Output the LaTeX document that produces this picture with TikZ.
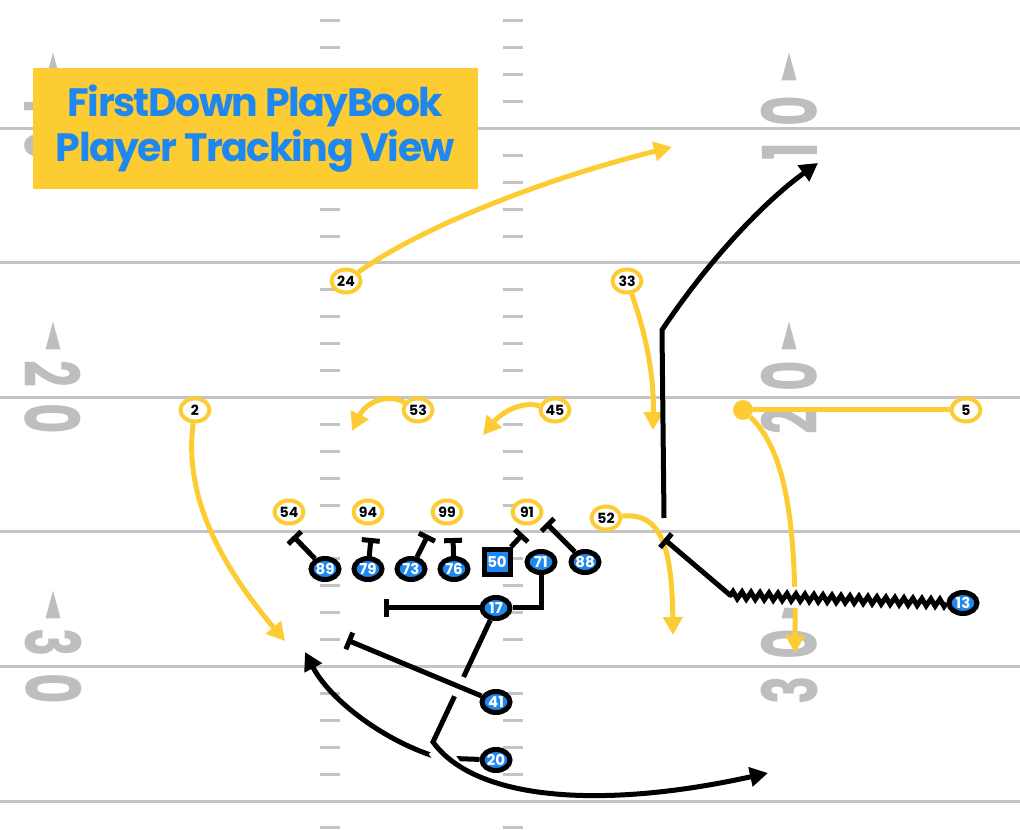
\documentclass[tikz,border=0pt]{standalone}
\usepackage{fontspec}
\usepackage{graphicx}
\usetikzlibrary{arrows.meta,shapes.geometric,decorations.pathmorphing,calc,backgrounds}
\newfontfamily\pop{Poppins}
\newfontfamily\poptight{Poppins}[LetterSpace=-4]
\definecolor{fyellow}{HTML}{FDCC33}
\definecolor{fblue}{HTML}{1E88F0}
\definecolor{fgray}{HTML}{C4C4C4}
\definecolor{ngray}{HTML}{BEBEBE}
\newcommand{\yardno}[2]{\scalebox{0.62}[1]{#1\kern15pt#2}}

\begin{document}
\begin{tikzpicture}[
    x=0.2mm, y=-0.2mm,
    yard/.style={draw=fgray, line width=0.6mm},
    hash/.style={draw=fgray, line width=0.6mm},
    yardnum/.style={text=ngray, inner sep=0pt, font=\pop\bfseries\fontsize{43}{43}\selectfont},
    titlebox/.style={fill=fyellow, text=fblue, align=center, minimum width=89mm, minimum height=24.2mm, inner sep=0pt, font=\poptight\bfseries\fontsize{22.5}{26}\selectfont},
    def/.style={ellipse, draw=fyellow, line width=0.8mm, fill=white, minimum width=5.8mm, minimum height=4.6mm, inner sep=0pt, font=\pop\bfseries\fontsize{8}{8}\selectfont},
    off/.style={ellipse, draw=black, line width=1mm, fill=fblue, text=white, minimum width=5.6mm, minimum height=4.2mm, inner sep=0pt, font=\pop\bfseries\fontsize{8.5}{8}\selectfont},
    ctr/.style={off, rectangle, minimum width=5.2mm, minimum height=5mm},
    motion/.style={circle, fill=fyellow, minimum size=4mm, inner sep=0pt},
    yroute/.style={draw=fyellow, line width=1mm},
    broute/.style={draw=black, line width=1mm},
    yarr/.style={yroute, -{Triangle[length=3.6mm, width=3.8mm]}},
    barr/.style={broute, -{Triangle[length=3.6mm, width=3.8mm]}},
    block/.style={broute, -{Bar[width=3.6mm]}},
    gapband/.style={draw=white, line width=4.2mm},
    zz/.style={decoration={zigzag, segment length=1.8mm, amplitude=0.7mm}}
]
    \useasboundingbox (0,0) rectangle (1020,830);

    \node[titlebox] (title) at (255.5,128.5) {FirstDown PlayBook\\Player Tracking View};

    \node[def] (d24) at (346,281) {24};
    \node[def] (d33) at (627,281) {33};
    \node[def] (d2) at (195,410) {2};
    \node[def] (d53) at (418,410) {53};
    \node[def] (d45) at (555,410) {45};
    \node[def] (d5) at (966,410) {5};
    \node[def] (d54) at (289,512) {54};
    \node[def] (d94) at (368,512) {94};
    \node[def] (d99) at (447,512) {99};
    \node[def] (d91) at (527,512) {91};
    \node[def] (d52) at (606,518) {52};
    \node[motion] (m5) at (743,410) {};

    \node[off] (o89) at (325,569) {89};
    \node[off] (o79) at (368,569) {79};
    \node[off] (o73) at (411,569) {73};
    \node[off] (o76) at (454,569) {76};
    \node[ctr] (o50) at (497,562) {50};
    \node[off] (o71) at (541,562) {71};
    \node[off] (o88) at (585,562) {88};
    \node[off] (o17) at (496,608) {17};
    \node[off] (o41) at (496,702) {41};
    \node[off] (o20) at (496,760) {20};
    \node[off] (o13) at (963,603) {13};

    \coordinate (t24) at (672,147);
    \coordinate (t33) at (653,430);
    \coordinate (t2) at (285,641);
    \coordinate (t53) at (352,431);
    \coordinate (t45) at (483,435);
    \coordinate (t52) at (673,635);
    \coordinate (t5) at (795,653);
    \coordinate (w20) at (440,758);
    \coordinate (t20) at (305,652);
    \coordinate (c17) at (433,742);
    \coordinate (k17) at (475,800);
    \coordinate (t17) at (768,773);
    \coordinate (b41) at (347,640);
    \coordinate (b17) at (384,608);
    \coordinate (b89) at (293,536);
    \coordinate (b79) at (371,538);
    \coordinate (b73) at (428,535);
    \coordinate (b76) at (453,538);
    \coordinate (b50) at (523,534);
    \coordinate (b88) at (546,523);
    \coordinate (r1s) at (664,518);
    \coordinate (r1k) at (662,330);
    \coordinate (r1e) at (818,163);
    \coordinate (k13) at (730,595);
    \coordinate (b13) at (664,539);

    \begin{scope}[on background layer]
        \foreach \k in {0,...,5}
            \draw[yard] (0,{128.5+134.5*\k}) -- (1020,{128.5+134.5*\k});
        \foreach \j in {-4,...,26}
            \draw[hash] (320,{128.5+26.9*\j}) -- (340,{128.5+26.9*\j}) (503,{128.5+26.9*\j}) -- (523,{128.5+26.9*\j});
        \foreach \k/\n in {0/1,2/2,4/3} {
            \node[yardnum, rotate=-90] (yl\n) at (53,{128.5+134.5*\k}) {\yardno{\n}{0}};
            \node[yardnum, rotate=90] (yr\n) at (789,{128.5+134.5*\k}) {\yardno{\n}{0}};
            \fill[ngray] (45.5,{80.5+134.5*\k}) -- (60.5,{80.5+134.5*\k}) -- (53,{52.5+134.5*\k}) -- cycle;
            \fill[ngray] (781.5,{80.5+134.5*\k}) -- (796.5,{80.5+134.5*\k}) -- (789,{52.5+134.5*\k}) -- cycle;
        }

        \draw[yarr] (d24) .. controls (420,228) and (540,180) .. (t24);
        \draw[yarr] (d33) .. controls (648,340) and (654,380) .. (t33);
        \draw[yarr] (d2) .. controls (183,500) and (225,570) .. (t2);
        \draw[yarr] (d53) .. controls (388,393) and (366,402) .. (t53);
        \draw[yarr] (d45) .. controls (522,401) and (502,412) .. (t45);
        \draw[yarr] (d52) .. controls (660,512) and (672,545) .. (t52);
        \draw[yroute] (d5) -- (m5);
        \draw[yarr] (m5) .. controls (785,450) and (796,520) .. (t5);

        \draw[barr] (o20) -- (w20) .. controls (385,742) and (330,700) .. (t20);
        \draw[gapband] ($(c17)!0.1!(k17)$) -- ($(c17)!0.7!(k17)$);
        \draw[barr] (o17) -- (c17) .. controls (k17) and (600,810) .. (t17);
        \draw[gapband] ($(o41)!0.18!(b41)$) -- ($(o41)!0.32!(b41)$);
        \draw[block] (o41) -- (b41);
        \draw[broute] (o71) |- (o17);
        \draw[block] (o17) -- (b17);
        \foreach \p in {89,79,73,76,50,88}
            \draw[block] (o\p) -- (b\p);
        \draw[barr] (r1s) -- (r1k) .. controls (712,255) and (769,198) .. (r1e);
        \draw[gapband] (o13.west) -- (k13);
        \draw[block] (o13.west) decorate[zz]{-- (k13)} -- (b13);
    \end{scope}
\end{tikzpicture}
\end{document}
